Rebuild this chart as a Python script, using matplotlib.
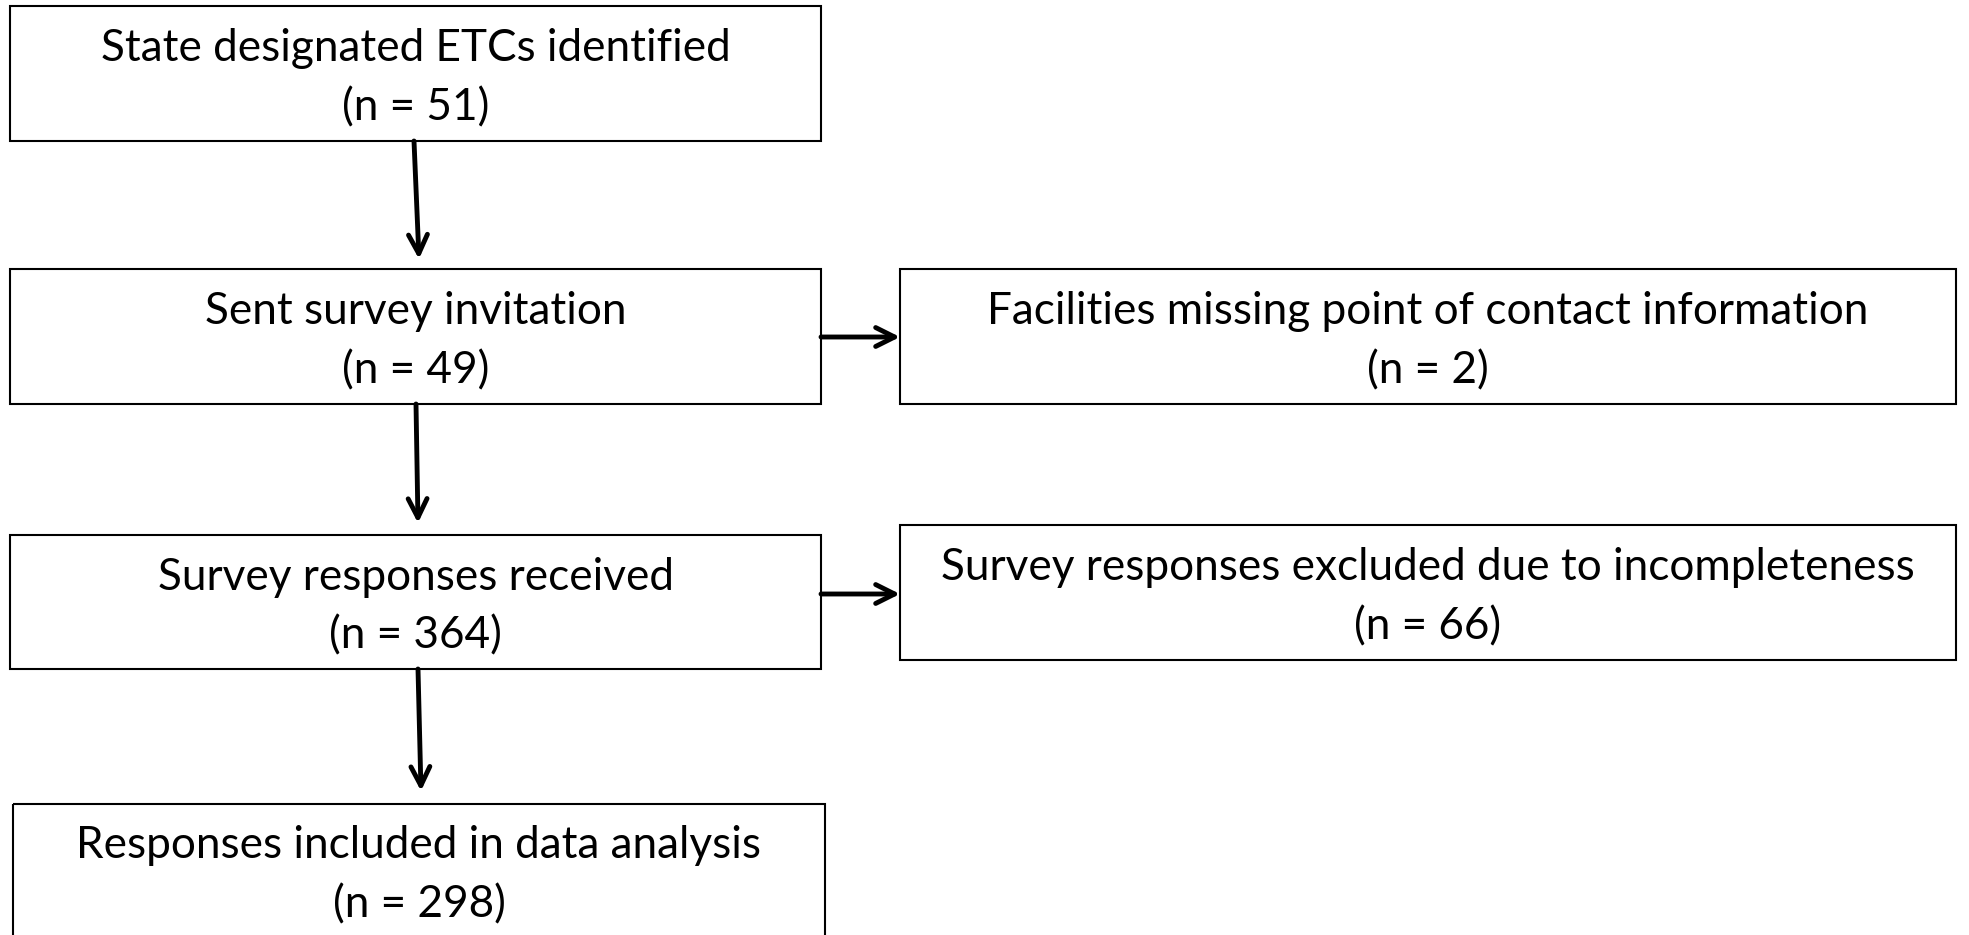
import matplotlib.pyplot as plt
from matplotlib.patches import Rectangle

# Flowchart content
labels = [
    "State designated ETCs identified",
    "Sent survey invitation",
    "Facilities missing point of contact information",
    "Survey responses received",
    "Survey responses excluded due to incompleteness",
    "Responses included in data analysis",
]
counts = [51, 49, 2, 364, 66, 298]

# box layout in pixel coords (x0, y0, x1, y1), y downwards
boxes = [
    (10, 6, 821, 141),
    (10, 269, 821, 404),
    (900, 269, 1956, 404),
    (10, 535, 821, 669),
    (900, 525, 1956, 660),
    (13, 804, 825, 945),
]
# arrows: (from, to) in pixel coords
arrows = [
    ((414, 141), (419, 259)),
    ((416, 404), (418, 523)),
    ((418, 669), (421, 791)),
    ((821, 337), (900, 337)),
    ((821, 594), (900, 594)),
]

plt.rcParams['font.family'] = ['Lato', 'DejaVu Sans']

fig = plt.figure(figsize=(19.69, 9.35), dpi=100)
ax = fig.add_axes([0, 0, 1, 1])
ax.set_xlim(0, 1969)
ax.set_ylim(935, 0)
ax.axis('off')

for (x0, y0, x1, y1), lab, n in zip(boxes, labels, counts):
    ax.add_patch(Rectangle((x0, y0), x1 - x0, y1 - y0, fill=False,
                           edgecolor='black', linewidth=1.5))
    cx = (x0 + x1) / 2
    cy = (y0 + y1) / 2 if y1 <= 935 else y0 + 67
    ax.text(cx, cy - 25, lab, ha='center', va='center', fontsize=31.8)
    ax.text(cx, cy + 34, f"(n = {n})", ha='center', va='center', fontsize=31.8)

for (p0, p1) in arrows:
    ax.annotate("", xy=p1, xytext=p0,
                arrowprops=dict(arrowstyle='->', color='black', lw=3.5,
                                mutation_scale=34, shrinkA=0, shrinkB=0))

fig.savefig("out.png", dpi=100)
